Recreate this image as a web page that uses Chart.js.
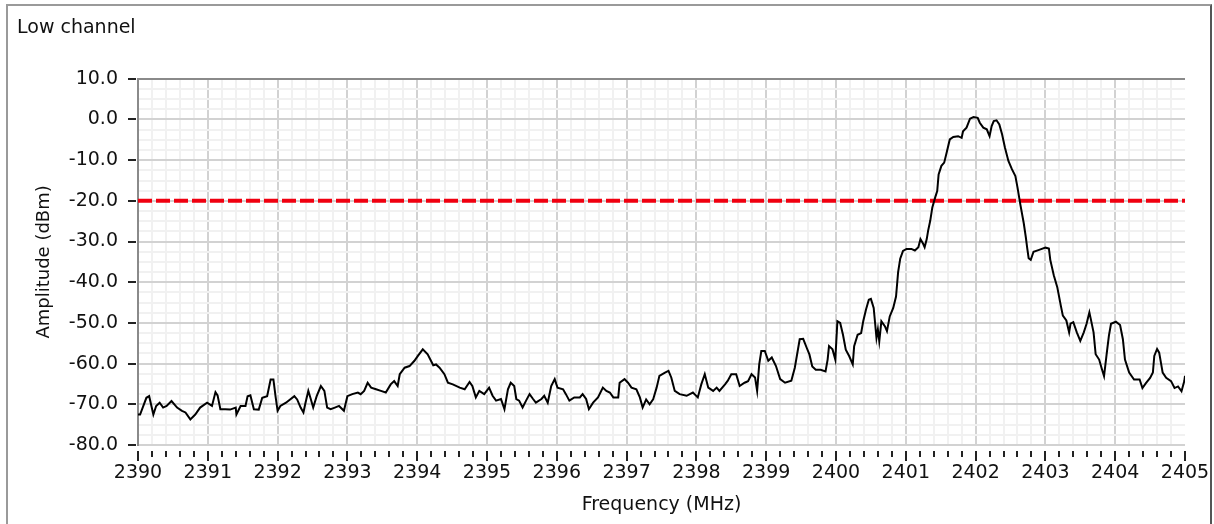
<!DOCTYPE html>
<html>
<head>
<meta charset="utf-8">
<script src="https://cdn.jsdelivr.net/npm/chart.js@4.4.1/dist/chart.umd.min.js"></script>
<style>
  html, body { margin: 0; padding: 0; background: #fff; }
  #frame { position: absolute; left: 6px; top: 4px; width: 1206px; height: 530px; box-sizing: border-box;
           border: 2px solid #9a9a9a; border-right-color: #555; }
  #wrap { position: absolute; left: 0; top: 0; width: 1214px; height: 524px; }
</style>
</head>
<body>
<div id="frame"></div>
<div id="wrap"><canvas id="chart" width="1214" height="524"></canvas></div>
<script>
// Spectrum trace (MHz, dBm)
const freq = [
  2390.00, 2390.03, 2390.12, 2390.16, 2390.22, 2390.26, 2390.31, 2390.36, 2390.41, 2390.48,
  2390.56, 2390.63, 2390.68, 2390.75, 2390.82, 2390.89, 2390.99, 2391.06, 2391.11, 2391.14,
  2391.18, 2391.25, 2391.32, 2391.40, 2391.41, 2391.47, 2391.54, 2391.57, 2391.61, 2391.66,
  2391.73, 2391.78, 2391.85, 2391.90, 2391.94, 2391.97, 2392.00, 2392.04, 2392.12, 2392.24,
  2392.28, 2392.33, 2392.37, 2392.40, 2392.44, 2392.47, 2392.51, 2392.56, 2392.62, 2392.67,
  2392.71, 2392.76, 2392.82, 2392.88, 2392.95, 2393.00, 2393.07, 2393.15, 2393.19, 2393.24,
  2393.29, 2393.34, 2393.41, 2393.48, 2393.55, 2393.62, 2393.67, 2393.72, 2393.75, 2393.82,
  2393.89, 2393.96, 2394.01, 2394.08, 2394.15, 2394.23, 2394.27, 2394.32, 2394.39, 2394.44,
  2394.51, 2394.61, 2394.68, 2394.75, 2394.79, 2394.84, 2394.89, 2394.96, 2395.03, 2395.08,
  2395.13, 2395.20, 2395.25, 2395.30, 2395.34, 2395.39, 2395.42, 2395.46, 2395.51, 2395.56,
  2395.61, 2395.66, 2395.70, 2395.78, 2395.82, 2395.87, 2395.92, 2395.97, 2396.01, 2396.09,
  2396.13, 2396.18, 2396.25, 2396.33, 2396.37, 2396.42, 2396.46, 2396.52, 2396.59, 2396.66,
  2396.71, 2396.76, 2396.81, 2396.88, 2396.90, 2396.97, 2397.02, 2397.07, 2397.14, 2397.19,
  2397.23, 2397.28, 2397.33, 2397.38, 2397.43, 2397.47, 2397.55, 2397.60, 2397.64, 2397.69,
  2397.76, 2397.86, 2397.95, 2398.02, 2398.07, 2398.12, 2398.17, 2398.24, 2398.29, 2398.33,
  2398.41, 2398.45, 2398.50, 2398.57, 2398.62, 2398.69, 2398.74, 2398.79, 2398.84, 2398.87,
  2398.90, 2398.93, 2398.98, 2399.03, 2399.08, 2399.14, 2399.20, 2399.27, 2399.36, 2399.41,
  2399.48, 2399.53, 2399.58, 2399.62, 2399.66, 2399.71, 2399.78, 2399.85, 2399.88, 2399.90,
  2399.95, 2399.99, 2400.02, 2400.06, 2400.10, 2400.14, 2400.19, 2400.24, 2400.26, 2400.31,
  2400.36, 2400.39, 2400.43, 2400.47, 2400.50, 2400.54, 2400.58, 2400.60, 2400.62, 2400.65,
  2400.70, 2400.73, 2400.77, 2400.82, 2400.86, 2400.89, 2400.92, 2400.96, 2401.01, 2401.08,
  2401.13, 2401.18, 2401.21, 2401.25, 2401.27, 2401.30, 2401.32, 2401.35, 2401.38, 2401.42,
  2401.45, 2401.47, 2401.51, 2401.55, 2401.59, 2401.63, 2401.68, 2401.75, 2401.80, 2401.82,
  2401.87, 2401.92, 2401.97, 2402.03, 2402.06, 2402.11, 2402.16, 2402.20, 2402.23, 2402.26,
  2402.30, 2402.34, 2402.38, 2402.42, 2402.47, 2402.52, 2402.57, 2402.60, 2402.64, 2402.69,
  2402.72, 2402.74, 2402.76, 2402.79, 2402.83, 2402.90, 2403.00, 2403.05, 2403.07, 2403.12,
  2403.17, 2403.22, 2403.25, 2403.30, 2403.34, 2403.36, 2403.40, 2403.45, 2403.50, 2403.55,
  2403.59, 2403.63, 2403.65, 2403.69, 2403.72, 2403.77, 2403.81, 2403.84, 2403.88, 2403.91,
  2403.94, 2404.01, 2404.07, 2404.11, 2404.14, 2404.20, 2404.27, 2404.35, 2404.39, 2404.44,
  2404.50, 2404.54, 2404.56, 2404.60, 2404.63, 2404.68, 2404.73, 2404.80, 2404.85, 2404.90,
  2404.95, 2404.99, 2405.00
];
const amp = [
  -72.5, -72.5, -68.4, -68.0, -72.5, -70.4, -69.6, -70.8, -70.4, -69.2,
  -70.8, -71.6, -72.0, -73.7, -72.5, -70.8, -69.6, -70.4, -67.0, -67.8,
  -71.2, -71.2, -71.3, -70.8, -72.5, -70.4, -70.4, -68.0, -67.8, -71.2,
  -71.3, -68.4, -68.0, -63.9, -63.9, -68.0, -71.6, -70.4, -69.6, -68.0,
  -68.8, -70.8, -72.0, -69.6, -66.7, -68.4, -70.8, -68.0, -65.5, -66.7,
  -70.8, -71.2, -70.8, -70.4, -71.6, -68.0, -67.5, -67.1, -67.5, -66.7,
  -64.7, -65.9, -66.3, -66.7, -67.1, -65.1, -64.3, -65.5, -62.6, -61.0,
  -60.6, -59.3, -58.1, -56.5, -57.7, -60.4, -60.2, -61.0, -62.6, -64.7,
  -65.1, -65.9, -66.3, -64.5, -65.5, -68.3, -66.7, -67.5, -65.9, -67.9,
  -69.1, -68.7, -71.2, -66.3, -64.7, -65.5, -68.7, -69.1, -70.8, -69.1,
  -67.5, -68.7, -69.6, -68.7, -67.9, -69.6, -65.5, -63.8, -65.9, -66.3,
  -67.5, -69.1, -68.3, -68.3, -67.5, -68.7, -71.2, -69.6, -68.3, -65.9,
  -66.7, -67.1, -68.3, -68.3, -64.7, -63.8, -64.7, -65.9, -66.3, -68.3,
  -70.8, -68.8, -70.0, -68.8, -65.9, -63.0, -62.2, -61.8, -63.4, -66.7,
  -67.5, -67.9, -67.1, -68.3, -65.1, -62.6, -65.9, -66.7, -65.9, -66.7,
  -65.1, -64.2, -62.6, -62.6, -65.5, -64.7, -64.3, -62.6, -63.4, -66.7,
  -60.2, -56.9, -56.9, -59.3, -58.5, -60.6, -63.8, -64.7, -64.2, -61.0,
  -54.0, -53.9, -56.1, -57.8, -60.7, -61.5, -61.5, -61.9, -59.0, -55.7,
  -56.5, -59.0, -49.6, -50.0, -52.9, -56.6, -58.2, -60.2, -55.7, -52.9,
  -52.5, -49.6, -46.7, -44.3, -44.1, -46.3, -53.7, -51.6, -54.5, -49.6,
  -50.8, -52.0, -48.4, -46.3, -43.5, -37.5, -34.2, -32.3, -31.8, -31.8,
  -32.2, -31.4, -29.4, -30.6, -31.4, -29.4, -27.3, -24.9, -21.6, -19.2,
  -17.6, -13.5, -11.4, -10.6, -7.8, -4.9, -4.3, -4.1, -4.5, -2.9,
  -2.0, 0.2, 0.6, 0.4, -0.8, -2.0, -2.4, -4.1, -1.6, -0.4,
  -0.2, -1.2, -3.7, -6.9, -10.2, -12.2, -13.9, -16.7, -20.8, -25.5,
  -29.0, -31.7, -34.1, -34.5, -32.5, -32.1, -31.5, -31.7, -34.5, -38.3,
  -41.2, -45.7, -48.2, -49.4, -52.3, -50.2, -49.8, -52.3, -54.4, -52.3,
  -50.2, -47.4, -49.0, -52.3, -57.7, -59.0, -61.4, -63.1, -57.3, -53.1,
  -50.2, -49.7, -50.5, -54.0, -59.0, -62.2, -63.9, -63.9, -66.0, -64.8,
  -63.5, -62.2, -58.1, -56.4, -57.3, -62.2, -63.5, -64.3, -66.0, -65.6,
  -66.8, -64.3, -63.0
];

// limit line and axis ranges
const limitLevel = [-20, -20];
const limitFreq = [2390, 2405];
const freqRange = [2390, 2405];
const ampRange = [-80, 10];

const FONT = 'DejaVu Sans';

function isMajor(v, step) {
  const r = v / step;
  return Math.abs(r - Math.round(r)) < 1e-6;
}

// small tick marks, drawn slightly off the axes like the original
const tickMarks = {
  id: 'tickMarks',
  afterDraw(chart) {
    const { ctx, chartArea, scales } = chart;
    ctx.save();
    ctx.strokeStyle = '#222';
    ctx.lineWidth = 2;
    scales.x.ticks.forEach(t => {
      const px = Math.round(scales.x.getPixelForValue(t.value));
      const len = isMajor(t.value, 1) ? 10 : 6;
      ctx.beginPath();
      ctx.moveTo(px, chartArea.bottom + 6);
      ctx.lineTo(px, chartArea.bottom + 6 + len);
      ctx.stroke();
    });
    scales.y.ticks.forEach(t => {
      if (!isMajor(t.value, 10)) return;
      const py = Math.round(scales.y.getPixelForValue(t.value));
      ctx.beginPath();
      ctx.moveTo(chartArea.left - 10, py);
      ctx.lineTo(chartArea.left - 2, py);
      ctx.stroke();
    });
    ctx.restore();
  }
};

const chart = new Chart(document.getElementById('chart'), {
  type: 'line',
  data: {
    datasets: [
      {
        data: freq.map((f, i) => ({ x: f, y: amp[i] })),
        borderColor: '#000',
        borderWidth: 2,
        pointRadius: 0,
        tension: 0,
        order: 0
      },
      {
        data: limitFreq.map((f, i) => ({ x: f, y: limitLevel[i] })),
        borderColor: '#f00010',
        borderWidth: 4,
        borderDash: [14, 4],
        pointRadius: 0,
        order: 1
      }
    ]
  },
  options: {
    responsive: false,
    animation: false,
    layout: { padding: { left: 17, right: 29, top: 0, bottom: 0 } },
    plugins: {
      legend: { display: false },
      tooltip: { enabled: false },
      title: {
        display: true,
        text: 'Low channel',
        align: 'start',
        color: '#111',
        font: { family: FONT, size: 19, weight: 'normal' },
        padding: { top: 17, bottom: 39 }
      }
    },
    scales: {
      x: {
        type: 'linear',
        min: freqRange[0],
        max: freqRange[1],
        border: { display: false },
        grid: {
          drawTicks: true,
          tickLength: 15,
          tickColor: 'rgba(0,0,0,0)',
          lineWidth: 2,
          color: ctx => {
            const v = ctx.tick.value;
            if (v >= freqRange[1]) return 'rgba(0,0,0,0)';
            return isMajor(v, 1) ? '#d2d2d2' : '#f1f1f1';
          }
        },
        ticks: {
          stepSize: 0.2,
          autoSkip: false,
          maxRotation: 0,
          padding: 2,
          color: '#111',
          font: { family: FONT, size: 19 },
          callback: v => isMajor(v, 1) ? String(Math.round(v)) : ''
        },
        title: {
          display: true,
          text: 'Frequency (MHz)',
          color: '#111',
          font: { family: FONT, size: 19 },
          padding: { top: 0, bottom: 8 }
        },
        afterFit: scale => { scale.height = 79; }
      },
      y: {
        min: ampRange[0],
        max: ampRange[1],
        border: { display: true, color: '#8a8a8a', width: 2 },
        grid: {
          drawTicks: false,
          lineWidth: 2,
          color: ctx => {
            const v = ctx.tick.value;
            if (v >= ampRange[1]) return '#8a8a8a';
            return isMajor(v, 10) ? '#d2d2d2' : '#f1f1f1';
          }
        },
        ticks: {
          stepSize: 2.5,
          autoSkip: false,
          padding: 20,
          color: '#111',
          font: { family: FONT, size: 19 },
          callback: v => isMajor(v, 10) ? v.toFixed(1) : ''
        },
        title: {
          display: true,
          text: 'Amplitude (dBm)',
          color: '#111',
          font: { family: FONT, size: 18 },
          padding: { top: 17, bottom: 0 }
        },
        afterFit: scale => { scale.width = 121; }
      }
    }
  },
  plugins: [tickMarks]
});
</script>
</body>
</html>
